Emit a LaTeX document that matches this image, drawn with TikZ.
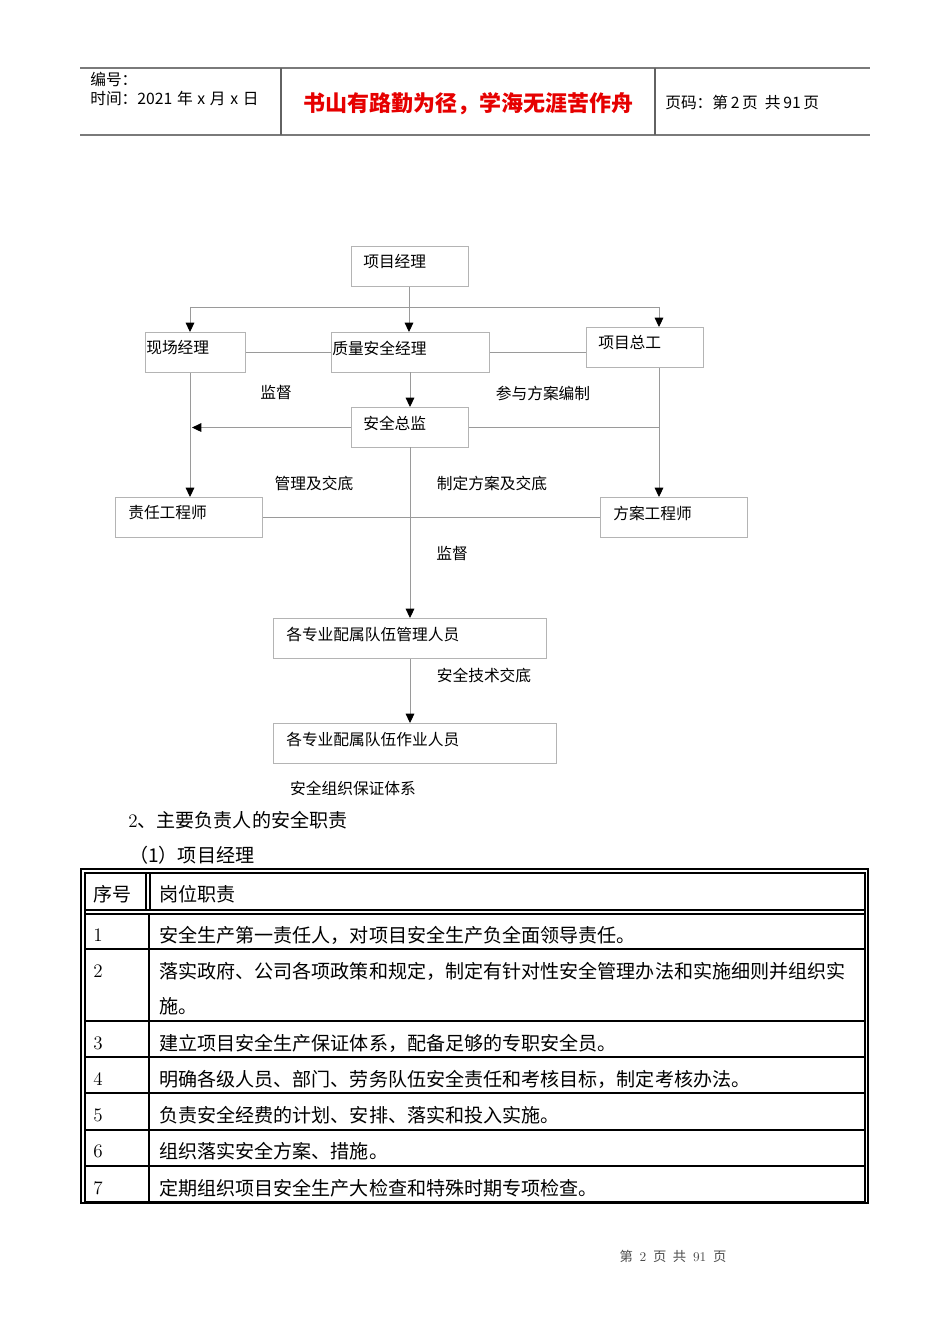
\documentclass[tikz,border=0pt]{standalone}
\usepackage{fontspec}
\newfontfamily\cjk{Noto Sans CJK SC}
\usetikzlibrary{arrows.meta}
\definecolor{boxgray}{HTML}{B4B4B4}
\definecolor{linegray}{HTML}{9A9A9A}
\definecolor{hdrgray}{HTML}{7A7A7A}
\definecolor{titlered}{HTML}{E60000}
\newcommand\orgbox[7]{%
  \node[orgb, minimum width={(#4-#2)*0.75pt}, minimum height={(#5-#3)*0.75pt}] (#1) at (#2,#3) {};
  \node[flab, anchor=west] (#1t) at (#6,{#3+16}) {#7};}
\newcommand\hg{\hspace{3.5pt}}
\begin{document}
\begin{tikzpicture}[x=0.75pt,y=-0.75pt,
  every node/.style={font=\cjk},
  orgb/.style={draw=boxgray, line width=0.8pt, rectangle, inner sep=0pt, anchor=north west},
  flab/.style={inner sep=0pt, font=\cjk\fontsize{11.8}{14}\selectfont},
  conn/.style={draw=linegray, line width=0.7pt},
  arr/.style={conn, -{Triangle[length=7pt,width=6.5pt,color=black]}},
  body/.style={inner sep=0pt, anchor=west, font=\cjk\fontsize{14.3}{17}\selectfont},
  hdr/.style={inner sep=0pt, anchor=west, font=\cjk\fontsize{11.8}{13}\selectfont},
  thinrule/.style={line width=0.9pt, draw=black},
  thickrule/.style={line width=1.6pt, draw=black}
]
\useasboundingbox[fill=white] (0,0) rectangle (950,1344);

% ---------- page header ----------
\draw[hdrgray, line width=1.1pt] (80,68) -- (870,68);
\draw[hdrgray, line width=1.1pt] (80,135) -- (870,135);
\draw[hdrgray!80!black, line width=1pt] (281,68) -- (281,135);
\draw[hdrgray!80!black, line width=1pt] (655,68) -- (655,135);
\node[hdr] (hno) at (90,79) {编号：};
\node[hdr] (htime) at (90,99) {时间：2021\hg 年\hg x\hg 月\hg x\hg 日};
\node[inner sep=0pt, text=titlered, font=\cjk\bfseries\fontsize{16.5}{18}\selectfont] (htitle) at (468,104) {书山有路勤为径，学海无涯苦作舟};
\node[hdr] (hpage) at (665,103) {页码：第\,2\,页\ \ 共\,91\,页};

% ---------- flowchart boxes ----------
\orgbox{pm}{351}{246}{468}{286}{363}{项目经理}
\orgbox{xc}{145}{332}{245}{372}{146}{现场经理}
\orgbox{qs}{331}{332}{489}{372}{332}{质量安全经理}
\orgbox{zg}{586}{327}{703}{367}{598}{项目总工}
\orgbox{zj}{351}{407}{468}{447}{363}{安全总监}
\orgbox{zr}{115}{497}{262}{537}{128}{责任工程师}
\orgbox{fa}{600}{497}{747}{537}{613}{方案工程师}
\orgbox{gl}{273}{618}{546}{658}{286}{各专业配属队伍管理人员}
\orgbox{zy}{273}{723}{556}{763}{286}{各专业配属队伍作业人员}

% ---------- connectors ----------
\coordinate (L) at (190,307);
\coordinate (R) at (659,307);
\coordinate (M) at (409,307);
\draw[conn] (L) -- (R);
\draw[arr] (pm.south -| M) -- (M |- qs.north);
\draw[arr] (L) -- (L |- xc.north);
\draw[arr] (R) -- (R |- zg.north);
\draw[conn] (xc.east) -- (qs.west);
\draw[conn] (qs.east) -- (qs.east -| zg.west);
\draw[arr] (410,372) coordinate (qsb) -- (qsb |- zj.north);
\draw[arr] (L |- xc.south) -- (L |- zr.north);
\draw[arr] (zj.west) -- ([xshift=1.5pt]L |- zj.west);
\draw[conn] (zj.east) -- (R |- zj.east);
\draw[arr] (R |- zg.south) -- (R |- fa.north);
\draw[conn] (zr.east) -- (fa.west);
\draw[arr] (410,447) coordinate (zjb) -- (zjb |- gl.north);
\draw[arr] (zjb |- gl.south) -- (zjb |- zy.north);

% ---------- connector labels ----------
\node[flab] (l1) at (276,393) {监督};
\node[flab] (l2) at (543,393) {参与方案编制};
\node[flab] (l3) at (314,483) {管理及交底};
\node[flab] (l4) at (492,483) {制定方案及交底};
\node[flab] (l5) at (452,554) {监督};
\node[flab] (l6) at (484,675) {安全技术交底};
\node[flab] (cap) at (353,788) {安全组织保证体系};

% ---------- body text ----------
\node[body] (s2) at (128,820) {{\rmfamily 2}、主要负责人的安全职责};
\node[body] (s21) at (129,855) {（1）项目经理};

% ---------- table ----------
\draw[thinrule] (81,869) rectangle (868,1203);
\draw[thickrule] (85,873) rectangle (865,1202);
\draw[thickrule] (85,910) -- (865,910);
\draw[thickrule] (85,914) -- (865,914);
\draw[thickrule] (146,873) -- (146,910);
\draw[line width=1.2pt] (150,873) -- (150,910);
\draw[line width=0.9pt] (149,914) -- (149,1202);
\foreach \yy in {949,1021,1057,1093,1130,1166}
  \draw[line width=1.1pt] (85,\yy) -- (865,\yy);
\node[body] (th1) at (93,894) {序号};
\node[body] (th2) at (159,894) {岗位职责};
\node[body] (n1) at (93,935) {\rmfamily 1};
\node[body] (t1) at (159,935) {安全生产第一责任人，对项目安全生产负全面领导责任。};
\node[body] (n2) at (93,971) {\rmfamily 2};
\node[body] (t2a) at (159,971) {落实政府、公司各项政策和规定，制定有针对性安全管理办法和实施细则并组织实};
\node[body] (t2b) at (159,1006) {施。};
\node[body] (n3) at (93,1043) {\rmfamily 3};
\node[body] (t3) at (159,1043) {建立项目安全生产保证体系，配备足够的专职安全员。};
\node[body] (n4) at (93,1079) {\rmfamily 4};
\node[body] (t4) at (159,1079) {明确各级人员、部门、劳务队伍安全责任和考核目标，制定考核办法。};
\node[body] (n5) at (93,1115) {\rmfamily 5};
\node[body] (t5) at (159,1115) {负责安全经费的计划、安排、落实和投入实施。};
\node[body] (n6) at (93,1151) {\rmfamily 6};
\node[body] (t6) at (159,1151) {组织落实安全方案、措施。};
\node[body] (n7) at (93,1188) {\rmfamily 7};
\node[body] (t7) at (159,1188) {定期组织项目安全生产大检查和特殊时期专项检查。};

% ---------- footer ----------
\node[inner sep=0pt, text=black!70, font=\cjk\fontsize{10}{12}\selectfont] (foot) at (673,1256) {第\enspace{\rmfamily 2}\enspace 页\enspace 共\enspace{\rmfamily 91}\enspace 页};
\end{tikzpicture}
\end{document}
